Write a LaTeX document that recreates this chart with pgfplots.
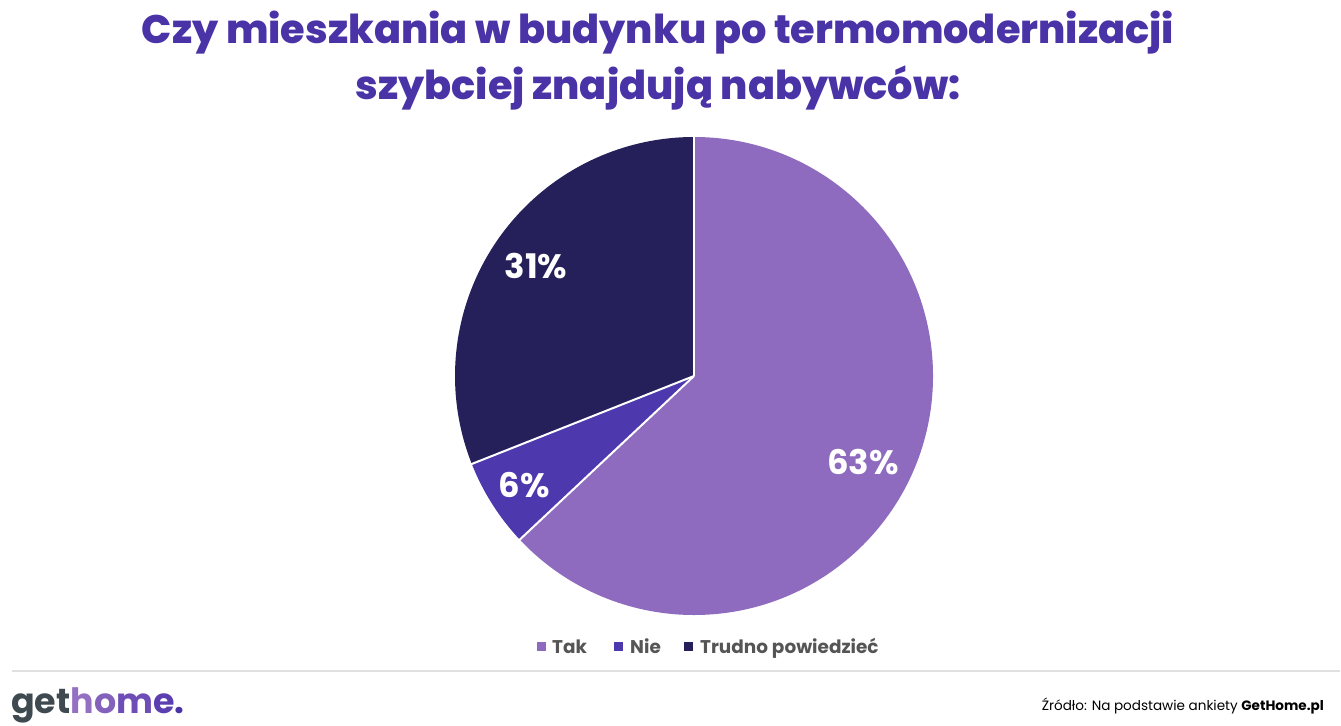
\documentclass[border=0pt]{standalone}
\usepackage{pgfplots}
\pgfplotsset{compat=1.18}
\usepackage{pgfplotstable}
\usepackage{fontspec}
\setmainfont{Poppins}
\newfontfamily\titlefont{Poppins ExtraBold}
\definecolor{takc}{HTML}{8E6BBE}
\definecolor{niec}{HTML}{4E38AE}
\definecolor{trudc}{HTML}{251F5A}
\definecolor{titlec}{HTML}{4A33A7}
\definecolor{legc}{HTML}{555555}
\definecolor{getc}{HTML}{3F4A50}
\definecolor{hc}{HTML}{9470C2}
\definecolor{oc}{HTML}{8462BC}
\definecolor{mc}{HTML}{6E4DB6}
\definecolor{ec}{HTML}{5B3EB0}

\pgfplotstableread{
label value
Tak 63
Nie 6
Trudno 31
}\piedata

\begin{document}%
\begin{tikzpicture}
\pgfplotstablegetelem{0}{value}\of\piedata \global\let\vA\pgfplotsretval
\pgfplotstablegetelem{1}{value}\of\piedata \global\let\vB\pgfplotsretval
\pgfplotstablegetelem{2}{value}\of\piedata \global\let\vC\pgfplotsretval
\pgfmathsetmacro{\aA}{90}
\pgfmathsetmacro{\aB}{\aA-3.6*\vA}
\pgfmathsetmacro{\aC}{\aB-3.6*\vB}
\pgfmathsetmacro{\aD}{\aC-3.6*\vC}
\xdef\aA{\aA}\xdef\aB{\aB}\xdef\aC{\aC}\xdef\aD{\aD}
\begin{axis}[
  width=1341bp, height=725bp, scale only axis,
  xmin=0, xmax=1341, ymin=0, ymax=725,
  hide axis, clip=false,
]
% background
\fill[white] (axis cs:0,0) rectangle (axis cs:1341,725);
% pie wedges
\fill[takc] (axis cs:694,349) -- ++(\aA:239bp) arc[start angle=\aA, end angle=\aB, radius=239bp] -- cycle;
\fill[niec] (axis cs:694,349) -- ++(\aB:239bp) arc[start angle=\aB, end angle=\aC, radius=239bp] -- cycle;
\fill[trudc] (axis cs:694,349) -- ++(\aC:239bp) arc[start angle=\aC, end angle=\aD, radius=239bp] -- cycle;
\draw[white, line width=2bp] (axis cs:694,349) -- ++(\aA:240bp);
\draw[white, line width=2bp] (axis cs:694,349) -- ++(\aB:240bp);
\draw[white, line width=2bp] (axis cs:694,349) -- ++(\aC:240bp);
% slice labels
\node[white, font=\fontsize{34}{40}\selectfont\bfseries] at (axis cs:863,262.5) {\vA\%};
\node[white, font=\fontsize{34}{40}\selectfont\bfseries] at (axis cs:524,240) {\vB\%};
\node[white, font=\fontsize{34}{40}\selectfont\bfseries] at (axis cs:536,459) {\vC\%};
% title
\node[titlec, font=\fontsize{40}{57}\selectfont\titlefont, anchor=base] at (axis cs:658,681) {Czy mieszkania w budynku po termomodernizacji};
\node[titlec, font=\fontsize{40}{57}\selectfont\titlefont, anchor=base] at (axis cs:658,625) {szybciej znajdują nabywców:};
% legend
\fill[takc] (axis cs:537,74) rectangle (axis cs:546,83);
\node[legc, font=\fontsize{18.5}{22}\selectfont\bfseries, anchor=base west, inner sep=0pt] at (axis cs:552,72) {Tak};
\fill[niec] (axis cs:614,74) rectangle (axis cs:623,83);
\node[legc, font=\fontsize{18.5}{22}\selectfont\bfseries, anchor=base west, inner sep=0pt] at (axis cs:630,72) {Nie};
\fill[trudc] (axis cs:684,74) rectangle (axis cs:693,83);
\node[legc, font=\fontsize{18.5}{22}\selectfont\bfseries, anchor=base west, inner sep=0pt] at (axis cs:700,72) {Trudno powiedzieć};
% separator line
\draw[black!12, line width=1.2bp] (axis cs:12,54) -- (axis cs:1340,54);
% logo
\node[font=\fontsize{35}{40}\selectfont\bfseries, anchor=base west, inner sep=0pt] at (axis cs:11,12) {\textcolor{getc}{get}\textcolor{hc}{h}\textcolor{oc}{o}\textcolor{mc}{m}\textcolor{ec}{e}\textcolor{titlec}{.}};
% source
\node[black, font=\fontsize{13.6}{18}\selectfont, anchor=base east, inner sep=0pt] at (axis cs:1324,15) {Źródło: Na podstawie ankiety \textbf{GetHome.pl}};
\end{axis}
\end{tikzpicture}%
\end{document}
